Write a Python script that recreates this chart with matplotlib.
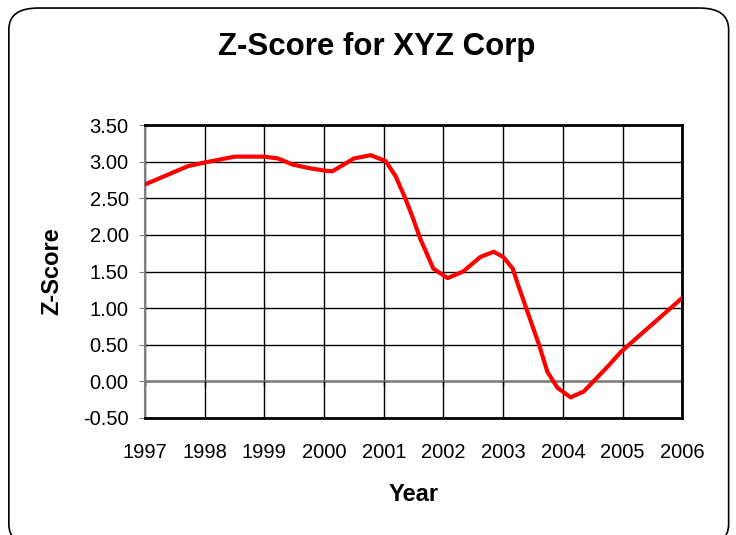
import matplotlib.pyplot as plt
from matplotlib.patches import FancyBboxPatch

# Z-Score readings (fractional year, score)
years = [1997.00, 1997.72, 1998.00, 1998.50, 1999.00, 1999.23, 1999.48, 1999.77,
         2000.00, 2000.14, 2000.50, 2000.78, 2001.03, 2001.20, 2001.36, 2001.48,
         2001.61, 2001.83, 2002.07, 2002.33, 2002.62, 2002.84, 2003.00, 2003.16,
         2003.24, 2003.60, 2003.74, 2003.91, 2004.13, 2004.35, 2004.75, 2004.97,
         2006.00]
zscore = [2.69, 2.94, 2.99, 3.07, 3.07, 3.045, 2.96, 2.91,
          2.88, 2.87, 3.045, 3.09, 3.01, 2.80, 2.50, 2.25,
          1.95, 1.54, 1.41, 1.50, 1.70, 1.77, 1.70, 1.54,
          1.34, 0.50, 0.13, -0.09, -0.22, -0.14, 0.20, 0.40,
          1.14]

year_ticks = list(range(1997, 2007))
score_ticks = [-0.5, 0.0, 0.5, 1.0, 1.5, 2.0, 2.5, 3.0, 3.5]

plt.rcParams['font.family'] = ['Liberation Sans', 'DejaVu Sans']

fig = plt.figure(figsize=(7.36, 5.35), dpi=100)

# rounded chart border
border = FancyBboxPatch((0.012, -0.02), 0.978, 1.005,
                        boxstyle="round,pad=0,rounding_size=0.04",
                        transform=fig.transFigure, fill=False,
                        edgecolor='black', linewidth=1.2)
fig.patches.append(border)

ax = fig.add_axes([0.197, 0.219, 0.730, 0.547])

ax.plot(years, zscore, color='red', linewidth=3, solid_joinstyle='round', zorder=5)

ax.set_xlim(1997, 2006)
ax.set_ylim(-0.5, 3.5)
ax.set_xticks(year_ticks)
ax.set_yticks(score_ticks)
ax.set_yticklabels(['%.2f' % v for v in score_ticks])
ax.grid(True, color='black', linewidth=1)
ax.set_axisbelow(True)

# zero axis line with its tick marks
ax.axhline(0, color='#808080', linewidth=1.8, zorder=2)
ax.vlines(year_ticks, -0.07, 0, color='black', linewidth=1, zorder=2)

for side in ['top', 'right', 'bottom']:
    ax.spines[side].set_linewidth(2)
    ax.spines[side].set_color('black')
ax.spines['left'].set_color('#808080')
ax.spines['left'].set_linewidth(1.5)

ax.tick_params(axis='y', length=4.3, color='#808080', labelsize=14.5, pad=7.5)
ax.tick_params(axis='x', length=0, labelsize=14.5, pad=18)

ax.set_xlabel('Year', fontsize=17, fontweight='bold', labelpad=15)
ax.set_ylabel('Z-Score', fontsize=17, fontweight='bold', labelpad=14)

fig.text(0.512, 0.912, 'Z-Score for XYZ Corp', fontsize=22.5, fontweight='bold',
         ha='center', va='center')

fig.savefig('out.png', dpi=100)
